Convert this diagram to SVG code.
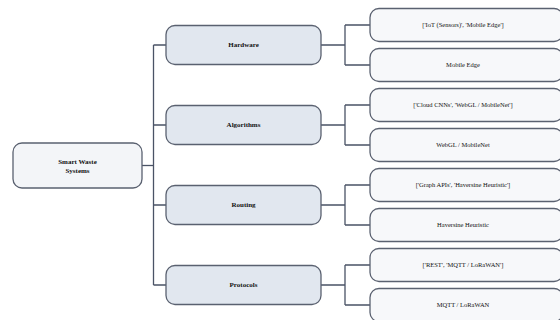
<svg xmlns="http://www.w3.org/2000/svg" width="560" height="320" viewBox="0 0 560 320">
<style>
.root rect{fill:#f3f5f8;stroke:#5a6170;stroke-width:1.3}
.cat rect{fill:#e1e7ef;stroke:#5a6170;stroke-width:1.3}
.leaf rect{fill:#f7f8fa;stroke:#5a6170;stroke-width:1.3}
text{font-family:"Liberation Serif","Times New Roman",serif;text-anchor:middle;fill:#111}
.root text,.cat text{font-size:7px;font-weight:bold}
.leaf text{font-size:6.5px}
.conn path{fill:none;stroke:#4a5366;stroke-width:1.3}
</style>
<rect width="560" height="320" fill="#ffffff"/>
<g class="conn">
<path d="M142 165.5H153.5"/>
<path d="M153.5 45V285"/>
<path d="M153.5 45H166M153.5 125H166M153.5 205H166M153.5 285H166"/>
<path d="M321 45H345M345 25V65M345 25H370M345 65H370"/>
<path d="M321 125H345M345 105V145M345 105H370M345 145H370"/>
<path d="M321 205H345M345 185V225M345 185H370M345 225H370"/>
<path d="M321 285H345M345 265V305M345 265H370M345 305H370"/>
</g>
<g id="root" class="root"><rect x="13" y="143" width="129" height="45" rx="9"/><text x="77.5" y="163.5">Smart Waste</text><text x="77.5" y="172.5">Systems</text></g>
<g id="hardware" class="cat"><rect x="166" y="25.5" width="155" height="39" rx="9"/><text x="243.5" y="47.3">Hardware</text></g>
<g id="algorithms" class="cat"><rect x="166" y="105.5" width="155" height="39" rx="9"/><text x="243.5" y="127.3">Algorithms</text></g>
<g id="routing" class="cat"><rect x="166" y="185.5" width="155" height="39" rx="9"/><text x="243.5" y="207.3">Routing</text></g>
<g id="protocols" class="cat"><rect x="166" y="265.5" width="155" height="39" rx="9"/><text x="243.5" y="287.3">Protocols</text></g>
<g id="hw1" class="leaf"><rect x="370" y="8.5" width="193" height="33" rx="9"/><text x="463" y="27.3">['IoT (Sensors)', 'Mobile Edge']</text></g>
<g id="hw2" class="leaf"><rect x="370" y="48.5" width="193" height="33" rx="9"/><text x="463" y="67.3">Mobile Edge</text></g>
<g id="al1" class="leaf"><rect x="370" y="88.5" width="193" height="33" rx="9"/><text x="463" y="107.3">['Cloud CNNs', 'WebGL / MobileNet']</text></g>
<g id="al2" class="leaf"><rect x="370" y="128.5" width="193" height="33" rx="9"/><text x="463" y="147.3">WebGL / MobileNet</text></g>
<g id="ro1" class="leaf"><rect x="370" y="168.5" width="193" height="33" rx="9"/><text x="463" y="187.3">['Graph APIs', 'Haversine Heuristic']</text></g>
<g id="ro2" class="leaf"><rect x="370" y="208.5" width="193" height="33" rx="9"/><text x="463" y="227.3">Haversine Heuristic</text></g>
<g id="pr1" class="leaf"><rect x="370" y="248.5" width="193" height="33" rx="9"/><text x="463" y="267.3">['REST', 'MQTT / LoRaWAN']</text></g>
<g id="pr2" class="leaf"><rect x="370" y="288.5" width="193" height="33" rx="9"/><text x="463" y="307.3">MQTT / LoRaWAN</text></g>
</svg>
